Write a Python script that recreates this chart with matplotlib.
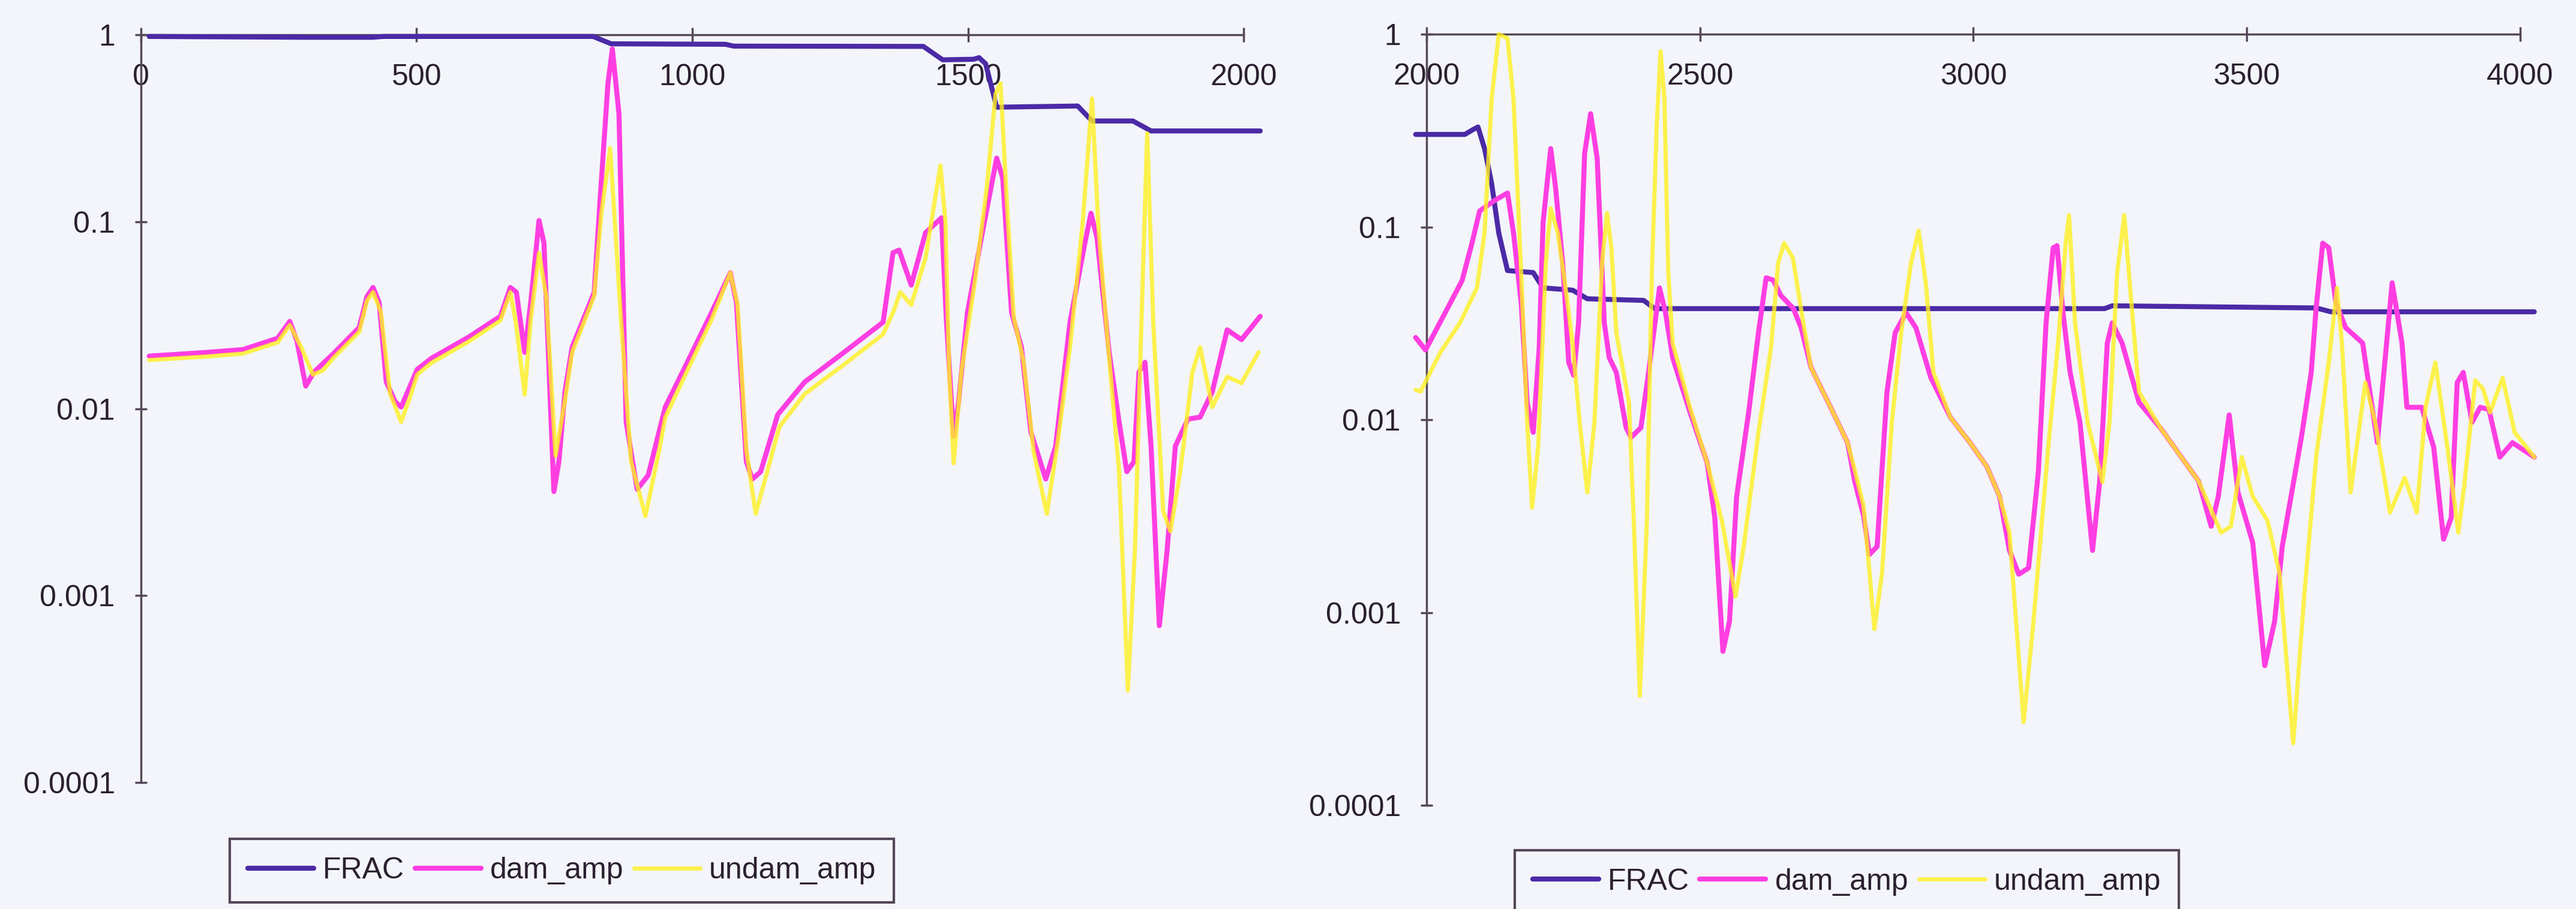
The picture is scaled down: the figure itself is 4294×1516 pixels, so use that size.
import matplotlib
matplotlib.use("Agg")
import matplotlib.pyplot as plt
from matplotlib.ticker import NullLocator

plt.rcParams['font.family'] = ['Liberation Sans', 'DejaVu Sans']

# ---------------- data: (position, value) ----------------
# panel A: 0 .. 2000
frac_a = [(15, 0.98), (300, 0.97), (420, 0.97), (440, 0.98), (820, 0.98), (853, 0.895),
          (1060, 0.89), (1075, 0.87), (1419, 0.867), (1454, 0.735), (1510, 0.74),
          (1520, 0.755), (1532, 0.70), (1552, 0.41), (1699, 0.416), (1725, 0.346),
          (1799, 0.346), (1832, 0.306), (2030, 0.306)]

dam_a = [(15, 0.0191), (120, 0.0200), (185, 0.0207), (248, 0.0238), (270, 0.0293),
         (283, 0.0230), (299, 0.0132), (314, 0.0157), (350, 0.0198), (396, 0.0272),
         (410, 0.0398), (421, 0.0445), (432, 0.0370), (445, 0.0139), (461, 0.0109),
         (472, 0.0102), (501, 0.0162), (527, 0.0186), (594, 0.0241), (652, 0.0312),
         (670, 0.0445), (681, 0.0420), (696, 0.0200), (707, 0.0370), (722, 0.1016),
         (731, 0.0770), (749, 0.0036), (758, 0.0052), (769, 0.0123), (782, 0.0213),
         (822, 0.0418), (833, 0.134), (847, 0.547), (855, 0.84), (867, 0.379),
         (880, 0.0085), (900, 0.0037), (920, 0.0044), (951, 0.0102), (991, 0.0177),
         (1035, 0.0327), (1069, 0.0534), (1080, 0.0370), (1098, 0.0052), (1109, 0.0042),
         (1124, 0.0046), (1155, 0.0093), (1204, 0.0139), (1275, 0.0200), (1346, 0.0290),
         (1364, 0.0683), (1375, 0.0705), (1397, 0.0458), (1423, 0.0873), (1452, 0.105),
         (1461, 0.0290), (1474, 0.0071), (1483, 0.0109), (1499, 0.0327), (1526, 0.0873),
         (1552, 0.219), (1563, 0.171), (1579, 0.0327), (1597, 0.0213), (1614, 0.0075),
         (1641, 0.0042), (1659, 0.0063), (1685, 0.0290), (1712, 0.0770), (1723, 0.111),
         (1734, 0.082), (1756, 0.0200), (1774, 0.0085), (1788, 0.0046), (1801, 0.0052),
         (1810, 0.0157), (1821, 0.0177), (1832, 0.0063), (1847, 0.00069), (1861, 0.00173),
         (1876, 0.0063), (1899, 0.0088), (1921, 0.0090), (1943, 0.0123), (1970, 0.0264),
         (1996, 0.0234), (2030, 0.0312)]

undam_a = [(15, 0.0182), (120, 0.0190), (185, 0.0197), (248, 0.0226), (270, 0.0280),
           (290, 0.0215), (312, 0.0152), (330, 0.0160), (350, 0.0188), (396, 0.0258),
           (410, 0.0378), (421, 0.0420), (435, 0.0330), (452, 0.0120), (472, 0.0085),
           (490, 0.0120), (501, 0.0152), (527, 0.0176), (594, 0.0228), (652, 0.0296),
           (670, 0.0420), (680, 0.0290), (696, 0.0119), (707, 0.0300), (722, 0.0680),
           (735, 0.0400), (752, 0.0056), (770, 0.0115), (782, 0.0200), (822, 0.0400),
           (835, 0.110), (851, 0.247), (871, 0.0290), (889, 0.0052), (915, 0.00266),
           (940, 0.0060), (951, 0.0090), (991, 0.0160), (1035, 0.0300), (1069, 0.0534),
           (1082, 0.0360), (1098, 0.0060), (1115, 0.00274), (1135, 0.0045), (1158, 0.0080),
           (1204, 0.0120), (1275, 0.0172), (1346, 0.0250), (1366, 0.0337), (1377, 0.0420),
           (1397, 0.0359), (1423, 0.0640), (1450, 0.200), (1459, 0.100), (1466, 0.0157),
           (1474, 0.0051), (1488, 0.0157), (1512, 0.0470), (1534, 0.151), (1550, 0.484),
           (1559, 0.550), (1570, 0.134), (1583, 0.0308), (1601, 0.0177), (1619, 0.0059),
           (1643, 0.00274), (1663, 0.0067), (1685, 0.0213), (1708, 0.0986), (1725, 0.456),
           (1736, 0.0986), (1752, 0.0256), (1774, 0.0046), (1790, 0.000311), (1803, 0.00184),
           (1814, 0.0256), (1825, 0.297), (1836, 0.0290), (1854, 0.00283), (1867, 0.00221),
           (1885, 0.0046), (1907, 0.0157), (1921, 0.0213), (1943, 0.0102), (1970, 0.0148),
           (1996, 0.0137), (2027, 0.0200)]

# panel B: 2000 .. 4000
frac_b = [(1980, 0.302), (2070, 0.302), (2085, 0.320), (2094, 0.330), (2106, 0.255),
          (2119, 0.168), (2132, 0.093), (2148, 0.0594), (2195, 0.058), (2213, 0.0483),
          (2267, 0.047), (2294, 0.0424), (2397, 0.0416), (2417, 0.0377), (3240, 0.0377),
          (3254, 0.039), (3627, 0.038), (3654, 0.0363), (4026, 0.0363)]

dam_b = [(1980, 0.0267), (1998, 0.0230), (2034, 0.0359), (2065, 0.0528), (2083, 0.0824),
         (2097, 0.121), (2124, 0.137), (2148, 0.150), (2159, 0.093), (2173, 0.0404),
         (2184, 0.0123), (2195, 0.0086), (2206, 0.0237), (2213, 0.105), (2227, 0.255),
         (2236, 0.159), (2249, 0.065), (2260, 0.0198), (2269, 0.0170), (2278, 0.0318),
         (2289, 0.240), (2300, 0.387), (2312, 0.227), (2325, 0.0318), (2334, 0.0210),
         (2347, 0.0176), (2365, 0.0091), (2374, 0.0081), (2392, 0.0091), (2406, 0.0176),
         (2426, 0.0483), (2437, 0.0359), (2450, 0.0210), (2482, 0.0109), (2513, 0.0060),
         (2527, 0.00313), (2542, 0.000629), (2554, 0.00090), (2567, 0.00397), (2589, 0.0109),
         (2607, 0.0283), (2621, 0.0545), (2634, 0.0530), (2648, 0.0441), (2671, 0.0377),
         (2685, 0.0300), (2703, 0.0187), (2739, 0.0116), (2770, 0.0076), (2783, 0.0048),
         (2799, 0.0032), (2810, 0.0020), (2824, 0.0022), (2842, 0.0139), (2857, 0.0283),
         (2877, 0.0359), (2895, 0.0300), (2922, 0.0166), (2958, 0.0103), (2994, 0.0076),
         (3025, 0.0057), (3048, 0.0040), (3066, 0.0021), (3083, 0.00158), (3101, 0.0017),
         (3119, 0.0054), (3133, 0.0318), (3146, 0.0778), (3153, 0.0800), (3164, 0.0359),
         (3177, 0.0176), (3195, 0.0097), (3218, 0.0021), (3231, 0.00475), (3245, 0.0250),
         (3254, 0.0318), (3272, 0.0250), (3303, 0.0123), (3343, 0.0090), (3412, 0.0048),
         (3435, 0.0028), (3448, 0.0040), (3468, 0.0106), (3484, 0.0042), (3511, 0.0023),
         (3533, 0.00053), (3551, 0.00090), (3565, 0.0022), (3600, 0.0081), (3618, 0.0176),
         (3627, 0.0380), (3639, 0.0824), (3650, 0.0780), (3663, 0.0404), (3681, 0.0300),
         (3712, 0.0250), (3739, 0.0076), (3766, 0.0513), (3784, 0.0250), (3793, 0.0116),
         (3820, 0.0116), (3842, 0.0072), (3860, 0.0024), (3874, 0.0031), (3885, 0.0156),
         (3896, 0.0176), (3912, 0.0097), (3927, 0.0116), (3943, 0.0113), (3963, 0.0064),
         (3986, 0.0076), (4026, 0.0064)]

undam_b = [(1980, 0.0143), (1989, 0.0140), (2025, 0.0223), (2061, 0.0318), (2092, 0.0483),
           (2106, 0.093), (2119, 0.462), (2132, 1.0), (2148, 0.95), (2159, 0.46),
           (2173, 0.0577), (2184, 0.0097), (2193, 0.0035), (2204, 0.0072), (2218, 0.065),
           (2227, 0.125), (2240, 0.093), (2253, 0.0513), (2267, 0.0250), (2280, 0.0097),
           (2294, 0.0042), (2307, 0.0097), (2321, 0.065), (2330, 0.118), (2338, 0.078),
           (2347, 0.0283), (2370, 0.0123), (2379, 0.0030), (2390, 0.00037), (2403, 0.0030),
           (2412, 0.0577), (2421, 0.343), (2428, 0.815), (2435, 0.46), (2442, 0.0577),
           (2450, 0.0250), (2482, 0.0115), (2513, 0.0060), (2540, 0.0030), (2565, 0.00121),
           (2580, 0.0022), (2607, 0.0086), (2630, 0.0237), (2643, 0.065), (2654, 0.0824),
           (2670, 0.069), (2689, 0.0318), (2703, 0.0187), (2739, 0.0116), (2770, 0.0076),
           (2783, 0.0055), (2799, 0.0036), (2810, 0.00163), (2819, 0.00082), (2833, 0.0016),
           (2851, 0.0097), (2868, 0.0283), (2886, 0.065), (2900, 0.0957), (2913, 0.0513),
           (2927, 0.0176), (2958, 0.0103), (2994, 0.0076), (3025, 0.0057), (3048, 0.0040),
           (3066, 0.0026), (3092, 0.00027), (3110, 0.00090), (3137, 0.0072), (3155, 0.0250),
           (3169, 0.0824), (3175, 0.115), (3186, 0.0318), (3209, 0.0097), (3236, 0.00475),
           (3249, 0.0097), (3263, 0.0577), (3276, 0.115), (3289, 0.0404), (3303, 0.0139),
           (3343, 0.0090), (3412, 0.0048), (3453, 0.0026), (3471, 0.0028), (3491, 0.0064),
           (3511, 0.0040), (3538, 0.0030), (3560, 0.0016), (3585, 0.00021), (3605, 0.0012),
           (3627, 0.0064), (3650, 0.0198), (3665, 0.0483), (3674, 0.0250), (3690, 0.0042),
           (3717, 0.0156), (3735, 0.0097), (3762, 0.0033), (3789, 0.0050), (3811, 0.0033),
           (3827, 0.0116), (3845, 0.0198), (3867, 0.0072), (3887, 0.0026), (3898, 0.0046),
           (3918, 0.0160), (3932, 0.0145), (3945, 0.0109), (3968, 0.0165), (3990, 0.0086),
           (4026, 0.0064)]

series_names = ['FRAC', 'dam_amp', 'undam_amp']
x_ticks_a = [0, 500, 1000, 1500, 2000]
x_ticks_b = [2000, 2500, 3000, 3500, 4000]
y_ticks = [1e-4, 1e-3, 1e-2, 1e-1, 1]
y_tick_labels = ['0.0001', '0.001', '0.01', '0.1', '1']

# ---------------- styling ----------------
BG = '#f3f5fa'
AXIS = '#56475a'
TEXT = '#2b2030'
COLORS = ['#4b2aa6', '#ff3ee2', '#fff020']
WIDTHS = [6.0, 6.0, 5.0]
ALPHAS = [1.0, 1.0, 0.8]
ZORDERS = [3, 4, 5]
FS = 36

fig = plt.figure(figsize=(42.94, 15.16), dpi=100, facecolor=BG)


def draw_panel(rect, series, xticks, legend_center):
    ax = fig.add_axes(rect)
    ax.set_facecolor('none')
    ax.set_yscale('log')
    ax.set_xlim(xticks[0], xticks[-1])
    ax.set_ylim(1e-4, 1)

    handles = []
    for pts, name, c, lw, a, z in zip(series, series_names, COLORS, WIDTHS, ALPHAS, ZORDERS):
        xs = [p[0] for p in pts]
        ys = [p[1] for p in pts]
        h, = ax.plot(xs, ys, color=c, lw=lw, alpha=a, zorder=z, clip_on=False,
                     solid_joinstyle='round', solid_capstyle='round', label=name)
        handles.append(h)

    # the category axis crosses the value axis at 1, labels hang below it
    ax.spines['top'].set_visible(False)
    ax.spines['right'].set_visible(False)
    ax.spines['bottom'].set_position(('data', 1))
    for s in ('bottom', 'left'):
        ax.spines[s].set_color(AXIS)
        ax.spines[s].set_linewidth(2.5)
        ax.spines[s].set_zorder(2)

    ax.set_xticks(xticks)
    ax.set_xticklabels([str(t) for t in xticks])
    ax.set_yticks(y_ticks)
    ax.set_yticklabels(y_tick_labels)
    ax.yaxis.set_minor_locator(NullLocator())
    ax.xaxis.set_minor_locator(NullLocator())
    ax.tick_params(axis='x', direction='inout', length=17, width=2.5, color=AXIS,
                   pad=26, labelsize=FS, labelcolor=TEXT)
    ax.tick_params(axis='y', direction='inout', length=14, width=2.5, color=AXIS,
                   pad=24, labelsize=FS, labelcolor=TEXT)

    leg = fig.legend(handles, series_names, loc='center', bbox_to_anchor=legend_center,
                     ncol=3, frameon=True, fancybox=False, edgecolor=AXIS, facecolor=BG,
                     fontsize=FS, handlelength=2.2, handletextpad=0.3, columnspacing=0.35,
                     borderpad=0.6, labelcolor=TEXT)
    leg.get_frame().set_linewidth(3)
    leg.get_frame().set_alpha(1)
    return ax


draw_panel([0.0547, 0.1392, 0.4281, 0.8225], [frac_a, dam_a, undam_a], x_ticks_a,
           (0.2181, 0.0419))
draw_panel([0.5538, 0.1141, 0.4245, 0.8483], [frac_b, dam_b, undam_b], x_ticks_b,
           (0.7169, 0.0297))

fig.savefig('out.png', dpi=100, facecolor=BG)
